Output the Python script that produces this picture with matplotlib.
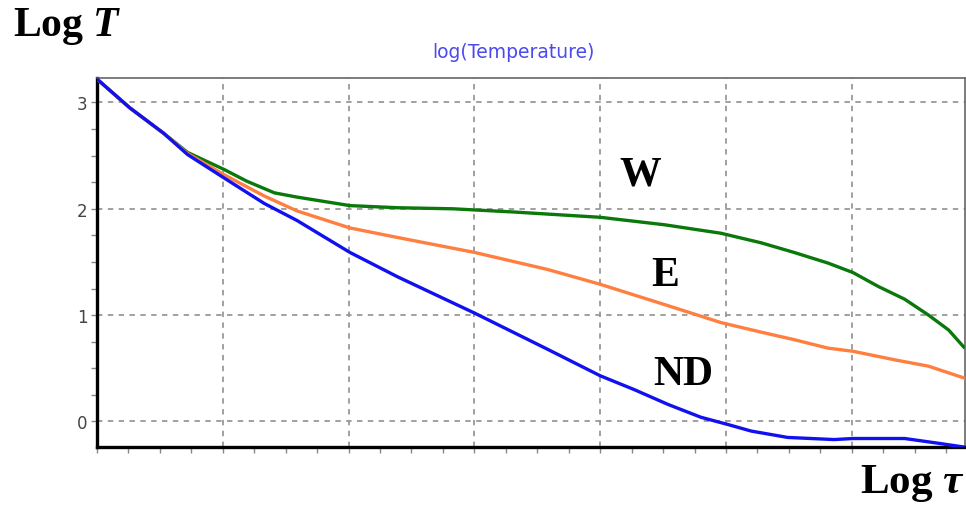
import matplotlib.pyplot as plt
from matplotlib.ticker import MultipleLocator, NullFormatter

plt.rcParams["mathtext.fontset"] = "custom"
plt.rcParams["mathtext.it"] = "Liberation Serif:italic:bold"
plt.rcParams["mathtext.rm"] = "Liberation Serif:bold"

# log tau values and log T values
nd_x = [0, 0.26, 0.53, 0.72, 1.01, 1.33, 1.59, 2.01, 2.39, 3.0, 3.58, 4.0, 4.27, 4.54, 4.8,
        5.02, 5.2, 5.49, 5.86, 6.01, 6.42, 6.66, 6.89]
nd_y = [3.22, 2.95, 2.71, 2.51, 2.29, 2.05, 1.89, 1.59, 1.36, 1.02, 0.68, 0.43, 0.30, 0.16, 0.04,
        -0.03, -0.09, -0.15, -0.17, -0.16, -0.16, -0.20, -0.24]

w_x = [0, 0.26, 0.53, 0.72, 1.01, 1.19, 1.41, 1.59, 2.01, 2.39, 2.83, 3.31, 4.0, 4.51, 4.96,
       5.28, 5.54, 5.81, 6.01, 6.21, 6.42, 6.61, 6.77, 6.89]
w_y = [3.22, 2.95, 2.71, 2.53, 2.37, 2.26, 2.15, 2.11, 2.03, 2.01, 2.00, 1.97, 1.92, 1.85, 1.77,
       1.68, 1.59, 1.49, 1.40, 1.27, 1.15, 1.00, 0.86, 0.70]

e_x = [0, 0.26, 0.53, 0.72, 1.01, 1.33, 1.59, 2.01, 2.39, 3.0, 3.58, 4.0, 4.51, 4.96, 5.28,
       5.54, 5.81, 6.01, 6.34, 6.61, 6.89]
e_y = [3.22, 2.95, 2.71, 2.52, 2.32, 2.12, 1.98, 1.82, 1.73, 1.59, 1.43, 1.29, 1.10, 0.93, 0.84,
       0.77, 0.69, 0.66, 0.58, 0.52, 0.41]

fig = plt.figure(figsize=(9.66, 5.06), dpi=100)
ax = fig.add_axes([0.1004, 0.1146, 0.8986, 0.7293])

ax.plot(w_x, w_y, color="#0a780a", lw=2.4, zorder=3)
ax.plot(e_x, e_y, color="#ff7f40", lw=2.4, zorder=3)
ax.plot(nd_x, nd_y, color="#1010f0", lw=2.4, zorder=4)

ax.set_xlim(0, 6.9)
ax.set_ylim(-0.24, 3.23)
ax.xaxis.set_major_locator(MultipleLocator(1))
ax.xaxis.set_minor_locator(MultipleLocator(0.25))
ax.yaxis.set_major_locator(MultipleLocator(1))
ax.yaxis.set_minor_locator(MultipleLocator(0.25))
ax.xaxis.set_major_formatter(NullFormatter())
ax.grid(True, which="major", color="#999999", ls=(0, (3, 3)), lw=1.3)
ax.tick_params(axis="both", which="both", direction="out", color="#888888",
               length=4, width=1)
ax.tick_params(axis="y", labelsize=12, labelcolor="#444444", pad=3)

for s in ["left", "bottom"]:
    ax.spines[s].set_color("black")
    ax.spines[s].set_linewidth(2.4)
for s in ["top", "right"]:
    ax.spines[s].set_color("#666666")
    ax.spines[s].set_linewidth(1.2)

ax.set_title("log(Temperature)", color="#4a4aee", fontsize=13.5,
             family="DejaVu Sans", x=0.48, pad=15)

serif = dict(family="Liberation Serif", fontweight="bold", fontsize=30, color="black")
fig.text(0.013, 0.948, "Log $T$", ha="left", va="center", **serif)
fig.text(0.999, 0.045, r"Log $\tau$", ha="right", va="center", fontsize=31,
         family="Liberation Serif", fontweight="bold", color="black")

ax.text(4.32, 2.32, "W", ha="center", va="center", **serif)
ax.text(4.52, 1.38, "E", ha="center", va="center", **serif)
ax.text(4.66, 0.45, "ND", ha="center", va="center", **serif)

fig.savefig("out.png", dpi=100)
